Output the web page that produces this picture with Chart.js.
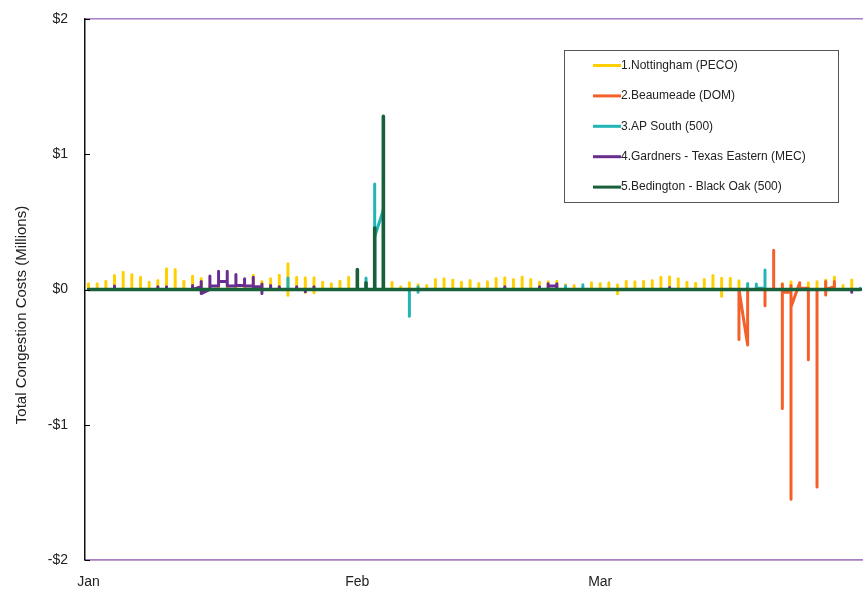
<!DOCTYPE html>
<html>
<head>
<meta charset="utf-8">
<script src="https://cdn.jsdelivr.net/npm/chart.js@4.4.1/dist/chart.umd.min.js"></script>
<style>
  html, body { margin: 0; padding: 0; background: #fff; }
  #wrap { width: 863px; height: 592px; }
</style>
</head>
<body>
<div id="wrap"><canvas id="c" width="863" height="592"></canvas></div>
<script>
// ---------- DATA ----------
// x positions are day indexes counted from Jan 1 (0 = Jan 1)
const monthTickDays = [0, 31, 59];
const monthLabels = ['Jan', 'Feb', 'Mar'];
const yTickValues = [-2, -1, 0, 1, 2];
const yTickLabels = ['-$2', '-$1', '$0', '$1', '$2'];
const yAxisTitle = 'Total Congestion Costs (Millions)';
const firstDay = 0;
const lastDay = 89;

const seriesNames = [
  '1.Nottingham (PECO)',
  '2.Beaumeade (DOM)',
  '3.AP South (500)',
  '4.Gardners - Texas Eastern (MEC)',
  '5.Bedington - Black Oak (500)'
];
const seriesColors = ['#FFD000', '#F4602A', '#22B5B5', '#6A2C8E', '#17603A'];

// Each entry: a single value (day spike from 0) or the within-day sequence of values
const nottinghamDays = [0,1,2,3,4,5,6,7,8,9,10,11,12,13,14,15,16,17,18,19,20,21,22,23,24,25,26,27,28,29,30,
  35,36,37,38,39,40,41,42,43,44,45,46,47,48,49,50,51,52,53,54,55,56,58,59,60,61,62,63,64,65,66,67,68,69,70,
  71,72,73,74,75,76,80,81,83,84,85,86,87,88];
const nottinghamVals = [0.042,0.042,0.061,0.103,0.128,0.11,0.091,0.054,0.066,0.153,0.148,0.061,0.098,0.081,0.03,0.03,
  0.02,0.03,0.03,0.106,0.06,0.08,0.106,[0,0.19,-0.042,0],0.091,[0,0.086,-0.02,0],[0,0.086,-0.024,0],0.054,0.042,0.061,0.091,
  0.054,0.02,0.05,0.035,0.03,0.074,0.079,0.07,0.054,0.066,0.044,0.057,0.081,0.086,0.074,0.093,0.074,0.054,0.057,0.061,
  0.035,0.03,0.049,0.044,0.049,[0,0.035,-0.032,0],0.061,0.057,0.061,0.066,0.091,0.095,0.079,0.054,0.047,
  0.074,0.103,[0,0.084,-0.05,0],0.084,0.064,0.02,0.042,0.057,0.05,0.057,0.07,0.093,0.03,0.07];

const beaumeadeDays = [75, 76, 78, 79, 80, 81, 82, 83, 84, 85, 86];
const beaumeadeVals = [[0,-0.37,0], [-0.41,0], -0.12, 0.29, [0,0.04,-0.88,-0.02], [-0.02,0.03,-1.55,-0.13],
  [0.05,0.01], [0.01,-0.52,0], -1.46, [0,0.06,-0.04,0], [0.02,0.06,0]];

const apSouthDays = [23, 32, 33, 34, 37, 38, 55, 57, 76, 77, 78, 89];
const apSouthVals = [0.085, 0.085, [0,0.78,0.39], [0.59,0.6,0], -0.197, [0,0.02,-0.02,0], 0.025, 0.035, 0.044,
  [0,0.04,0.01], [0.01,0.145,0], 0.01];

const gardnersDays = [3, 8, 9, 12, 13, 14, 15, 16, 17, 18, 19, 20, 21, 22, 24, 25, 26, 33, 48, 52, 53, 54, 67, 88];
const gardnersVals = [0.025, 0.02, 0.02, 0.03, [0.02,0.06,-0.03], [0,0.1,0.025], [0.025,0.135,0.06], [0.06,0.135,0.025],
  [0.025,0.11,0.03], [0.03,0.08,0.025], [0.025,0.09,0.02], [0.02,0.04,-0.03,0], 0.03, 0.02, 0.02, -0.017, 0.02,
  0.02, 0.02, 0.02, [0,0.042,0.025], [0.025,0.042,0], 0.015, -0.02];

const bedingtonDays = [31, 32, 33, 34];
const bedingtonVals = [0.148, 0.05, 0.455, 1.28];

// ---------- BUILD ----------
function buildPoints(days, vals) {
  const pts = [{ x: firstDay, y: 0 }];
  days.forEach((d, i) => {
    const v = vals[i];
    const seq = Array.isArray(v) ? v : [0, v, 0];
    seq.forEach(y => pts.push({ x: d, y: y }));
  });
  pts.push({ x: lastDay, y: 0 });
  return pts;
}
const allDays = [nottinghamDays, beaumeadeDays, apSouthDays, gardnersDays, bedingtonDays];
const allVals = [nottinghamVals, beaumeadeVals, apSouthVals, gardnersVals, bedingtonVals];

const datasets = seriesNames.map((name, i) => ({
  label: name,
  data: buildPoints(allDays[i], allVals[i]),
  borderColor: seriesColors[i],
  backgroundColor: seriesColors[i],
  borderWidth: i === 4 ? 3.6 : 3,
  pointRadius: 0,
  tension: 0,
  fill: false,
  borderCapStyle: 'round',
  borderJoinStyle: 'round',
  order: 5 - i
}));

const axisPurple = '#A77FC4';
const FONT = '"Liberation Sans", Arial, sans-serif';

const decorPlugin = {
  id: 'decor',
  afterDraw(chart) {
    const ctx = chart.ctx;
    const area = chart.chartArea;
    const ys = chart.scales.y;
    ctx.save();
    // inward tick marks on the value axis
    ctx.strokeStyle = '#000';
    ctx.lineWidth = 1;
    yTickValues.forEach(v => {
      const py = Math.round(ys.getPixelForValue(v)) + 0.5;
      ctx.beginPath();
      ctx.moveTo(area.left, py);
      ctx.lineTo(area.left + 5, py);
      ctx.stroke();
    });
    // rotated axis title
    ctx.save();
    ctx.translate(22, 315);
    ctx.rotate(-Math.PI / 2);
    ctx.font = '15px ' + FONT;
    ctx.fillStyle = '#222';
    ctx.textAlign = 'center';
    ctx.textBaseline = 'middle';
    ctx.fillText(yAxisTitle, 0, 0);
    ctx.restore();
    // legend box
    const L = 564.5, T = 50.5, R = 838.5, B = 202.5;
    ctx.fillStyle = '#fff';
    ctx.fillRect(L, T, R - L, B - T);
    ctx.strokeStyle = '#555';
    ctx.lineWidth = 1;
    ctx.strokeRect(L, T, R - L, B - T);
    ctx.font = '12px ' + FONT;
    ctx.textBaseline = 'middle';
    ctx.textAlign = 'left';
    chart.data.datasets.forEach((ds, i) => {
      const y = 65.5 + i * 30.4;
      ctx.strokeStyle = ds.borderColor;
      ctx.lineWidth = 3;
      ctx.beginPath();
      ctx.moveTo(593, y);
      ctx.lineTo(621, y);
      ctx.stroke();
      ctx.fillStyle = '#222';
      ctx.fillText(ds.label, 621, y);
    });
    ctx.restore();
  }
};

new Chart(document.getElementById('c'), {
  type: 'line',
  data: { datasets },
  plugins: [decorPlugin],
  options: {
    responsive: false,
    animation: false,
    devicePixelRatio: 1,
    layout: { padding: { left: 0, right: 0, top: 19, bottom: 0 } },
    plugins: { legend: { display: false }, tooltip: { enabled: false } },
    scales: {
      x: {
        type: 'linear',
        min: -0.4,
        max: 89.3,
        afterBuildTicks: s => { s.ticks = monthTickDays.map(v => ({ value: v })); },
        afterFit: s => { s.height = 32; s.paddingLeft = 0; s.paddingRight = 0; },
        ticks: {
          autoSkip: false,
          maxRotation: 0,
          padding: 14,
          color: '#222',
          font: { family: FONT, size: 14 },
          callback: v => monthLabels[monthTickDays.indexOf(v)]
        },
        grid: { display: true, drawOnChartArea: false, drawTicks: false, color: 'rgba(0,0,0,0)' },
        border: { display: true, color: axisPurple, width: 1.5 }
      },
      y: {
        min: -2,
        max: 2,
        afterBuildTicks: s => { s.ticks = yTickValues.map(v => ({ value: v })); },
        afterFit: s => { s.width = 85; s.paddingTop = 0; s.paddingBottom = 0; },
        ticks: {
          padding: 17,
          color: '#222',
          font: { family: FONT, size: 14 },
          callback: v => yTickLabels[yTickValues.indexOf(v)]
        },
        grid: {
          drawOnChartArea: true,
          drawTicks: false,
          lineWidth: 1.5,
          color: c => (c.tick && Math.abs(c.tick.value) === 2) ? axisPurple : 'rgba(0,0,0,0)'
        },
        border: { display: true, color: '#111', width: 1.5 },
        title: { display: false }
      }
    }
  }
});
</script>
</body>
</html>
